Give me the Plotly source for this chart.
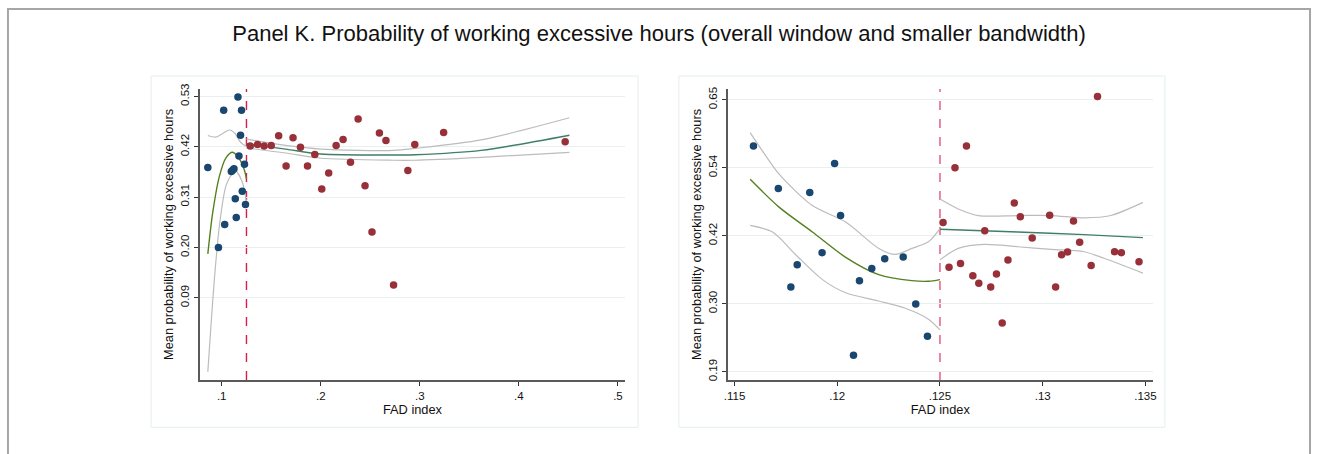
import plotly.graph_objects as go

W, H = 1318, 454
TITLE = "Panel K. Probability of working excessive hours (overall window and smaller bandwidth)"
YTITLE = "Mean probability of working excessive hours"
XTITLE = "FAD index"
CUTOFF = 0.125

# ---------- Left panel (overall window) ----------
bx_L = [0.0860, 0.0967, 0.1020, 0.1030, 0.1164, 0.1200, 0.1190, 0.1174, 0.1230,
        0.1097, 0.1110, 0.1124, 0.1208, 0.1137, 0.1240, 0.1147]
by_L = [0.375, 0.200, 0.500, 0.250, 0.529, 0.500, 0.445, 0.400, 0.382,
        0.366, 0.369, 0.372, 0.323, 0.3065, 0.294, 0.2655]
rx_L = [0.1288, 0.1361, 0.1428, 0.1500, 0.1575, 0.1650, 0.1720, 0.1795, 0.1866,
        0.1940, 0.2010, 0.2080, 0.2155, 0.2225, 0.2300, 0.2377, 0.2447, 0.2517,
        0.2592, 0.2658, 0.2735, 0.2879, 0.2949, 0.3240, 0.4467]
ry_L = [0.422, 0.425, 0.422, 0.423, 0.444, 0.378, 0.440, 0.419, 0.378,
        0.403, 0.328, 0.363, 0.423, 0.436, 0.386, 0.481, 0.335, 0.234,
        0.450, 0.434, 0.118, 0.368, 0.425, 0.451, 0.431]

fxL_l = [0.086, 0.091, 0.0977, 0.1043, 0.111, 0.1178, 0.1228, 0.125]
fyL_l = [0.186, 0.277, 0.356, 0.396, 0.408, 0.3935, 0.370, 0.350]
uxL_l = [0.086, 0.094, 0.101, 0.108, 0.1135, 0.1184, 0.1225, 0.125]
uyL_l = [0.4446, 0.441, 0.449, 0.4567, 0.449, 0.4316, 0.424, 0.421]
lxL_l = [0.086, 0.0893, 0.0927, 0.0977, 0.1043, 0.1110, 0.1143, 0.1210, 0.125]
lyL_l = [-0.072, 0.033, 0.133, 0.248, 0.3345, 0.362, 0.367, 0.3417, 0.298]

fxL_r = [0.125, 0.1645, 0.200, 0.2735, 0.2949, 0.3618, 0.451]
fyL_r = [0.4265, 0.415, 0.4042, 0.402, 0.4027, 0.4122, 0.4452]
uyL_r = [0.4366, 0.423, 0.415, 0.4122, 0.4165, 0.435, 0.4834]
lyL_r = [0.4172, 0.4064, 0.395, 0.3906, 0.3906, 0.397, 0.408]

yticks_L = [0.09, 0.20, 0.31, 0.42, 0.53]
yticktext_L = ["0.09", "0.20", "0.31", "0.42", "0.53"]
xticks_L = [0.1, 0.2, 0.3, 0.4, 0.5]
xticktext_L = [".1", ".2", ".3", ".4", ".5"]

# ---------- Right panel (smaller bandwidth) ----------
bx_R = [0.11592, 0.11713, 0.11774, 0.11805, 0.11866, 0.11926, 0.11987, 0.12016,
        0.12079, 0.12108, 0.12168, 0.12231, 0.12321, 0.12382, 0.12439]
by_R = [0.5716, 0.4998, 0.3335, 0.3708, 0.4932, 0.3914, 0.5420, 0.4543,
        0.2178, 0.3440, 0.3647, 0.3813, 0.3842, 0.3046, 0.2500]
rx_R = [0.12515, 0.12544, 0.12573, 0.12600, 0.12629, 0.12660, 0.12689, 0.12718,
        0.12747, 0.12775, 0.12803, 0.12831, 0.12862, 0.12891, 0.12949, 0.13034,
        0.13063, 0.13092, 0.13121, 0.13150, 0.13180, 0.13236, 0.13267, 0.13350,
        0.13383, 0.13469]
ry_R = [0.4426, 0.3669, 0.5349, 0.3730, 0.5716, 0.3525, 0.3396, 0.4286,
        0.3335, 0.3552, 0.2724, 0.3792, 0.4753, 0.4520, 0.4164, 0.4548,
        0.3335, 0.3880, 0.3925, 0.4448, 0.4092, 0.3697, 0.6555, 0.3930,
        0.3914, 0.3760]

fxR_l = [0.11576, 0.11718, 0.11879, 0.12041, 0.12202, 0.12363, 0.12444, 0.125]
fyR_l = [0.5154, 0.468, 0.4264, 0.3835, 0.3542, 0.3441, 0.343, 0.3458]
uxR_l = [0.11576, 0.11637, 0.11718, 0.11879, 0.12041, 0.12202, 0.12283, 0.12363, 0.12444, 0.125]
uyR_l = [0.5944, 0.5627, 0.5237, 0.471, 0.4431, 0.3986, 0.3885, 0.3986, 0.4097, 0.432]
lxR_l = [0.11576, 0.11685, 0.11799, 0.11928, 0.12041, 0.12202, 0.12331, 0.12444, 0.125]
lyR_l = [0.4376, 0.4264, 0.3875, 0.3458, 0.3235, 0.3096, 0.2974, 0.279, 0.2607]

fxR_r = [0.125, 0.1288, 0.13202, 0.13488]
fyR_r = [0.4309, 0.4264, 0.4219, 0.4169]
uxR_r = [0.125, 0.12589, 0.12686, 0.1288, 0.13041, 0.13202, 0.13331, 0.13488]
uyR_r = [0.482, 0.4653, 0.4542, 0.4542, 0.4542, 0.4503, 0.4542, 0.4765]
lxR_r = [0.125, 0.12589, 0.12718, 0.1288, 0.13041, 0.13202, 0.13299, 0.13488]
lyR_r = [0.3792, 0.3986, 0.4053, 0.4014, 0.3969, 0.393, 0.3819, 0.3569]

yticks_R = [0.19, 0.305, 0.42, 0.535, 0.65]
yticktext_R = ["0.19", "0.30", "0.42", "0.54", "0.65"]
xticks_R = [0.115, 0.12, 0.125, 0.13, 0.135]
xticktext_R = [".115", ".12", ".125", ".13", ".135"]

BLUE = "#1a476f"
RED = "#983039"
GREEN_L = "#55801f"
GREEN_R = "#3f7f66"
GRAY = "#bcbcbc"
FONT = "Liberation Sans, Arial, sans-serif"

fig = go.Figure()

def curve(x, y, color, xa, ya, width=1.2):
    fig.add_trace(go.Scatter(x=x, y=y, mode="lines", xaxis=xa, yaxis=ya,
                             line=dict(color=color, width=width, shape="spline", smoothing=0.8),
                             hoverinfo="skip", showlegend=False))

def dots(x, y, color, xa, ya):
    fig.add_trace(go.Scatter(x=x, y=y, mode="markers", xaxis=xa, yaxis=ya,
                             marker=dict(color=color, size=7.5, line=dict(width=0)),
                             showlegend=False))

# left panel
curve(uxL_l, uyL_l, GRAY, "x", "y")
curve(lxL_l, lyL_l, GRAY, "x", "y")
curve(fxL_l, fyL_l, GREEN_L, "x", "y", 1.4)
curve(fxL_r, uyL_r, GRAY, "x", "y")
curve(fxL_r, lyL_r, GRAY, "x", "y")
curve(fxL_r, fyL_r, GREEN_R, "x", "y", 1.4)
dots(bx_L, by_L, BLUE, "x", "y")
dots(rx_L, ry_L, RED, "x", "y")

# right panel
curve(uxR_l, uyR_l, GRAY, "x2", "y2")
curve(lxR_l, lyR_l, GRAY, "x2", "y2")
curve(fxR_l, fyR_l, GREEN_L, "x2", "y2", 1.4)
curve(uxR_r, uyR_r, GRAY, "x2", "y2")
curve(lxR_r, lyR_r, GRAY, "x2", "y2")
curve(fxR_r, fyR_r, GREEN_R, "x2", "y2", 1.4)
dots(bx_R, by_R, BLUE, "x2", "y2")
dots(rx_R, ry_R, RED, "x2", "y2")

def px(v):
    return v / W

def py(v):
    return 1 - v / H

ydom = [py(380), py(85)]
axis_common = dict(showline=True, linecolor="#5a5a5a", linewidth=1.5, ticks="outside",
                   ticklen=4, tickcolor="#333333", zeroline=False,
                   tickfont=dict(family=FONT, size=11.5, color="#111111"))
title_font = dict(family=FONT, size=12.8, color="#111111")

fig.update_layout(
    width=W, height=H, margin=dict(l=0, r=0, t=0, b=0),
    paper_bgcolor="white", plot_bgcolor="white",
    font=dict(family=FONT, color="#111111"),
    title=dict(text=TITLE, x=0.5, xanchor="center", y=py(33), yanchor="middle",
               font=dict(family="Liberation Sans Narrow, Arial Narrow, Liberation Sans, sans-serif",
                         size=22, color="#111111")),
    xaxis=dict(domain=[px(197), px(625)], range=[0.0779, 0.5073], anchor="y",
               tickvals=xticks_L, ticktext=xticktext_L, showgrid=False,
               title=dict(text=XTITLE, standoff=1, font=title_font), **axis_common),
    yaxis=dict(domain=ydom, range=[-0.0897, 0.5466], anchor="x",
               tickvals=yticks_L, ticktext=yticktext_L, tickangle=-90,
               showgrid=True, gridcolor="#e8f0f2", gridwidth=1,
               title=dict(text=YTITLE, standoff=3, font=title_font), **axis_common),
    xaxis2=dict(domain=[px(728), px(1156)], range=[0.11466, 0.13537], anchor="y2",
                tickvals=xticks_R, ticktext=xticktext_R, showgrid=False,
                title=dict(text=XTITLE, standoff=1, font=title_font), **axis_common),
    yaxis2=dict(domain=ydom, range=[0.1761, 0.6684], anchor="x2",
                tickvals=yticks_R, ticktext=yticktext_R, tickangle=-90,
                showgrid=True, gridcolor="#e8f0f2", gridwidth=1,
                title=dict(text=YTITLE, standoff=3, font=title_font), **axis_common),
)

shapes = [
    # outer border
    dict(type="rect", xref="paper", yref="paper", x0=px(4), x1=px(1314), y0=py(470), y1=py(4),
         line=dict(color="#a6a6a6", width=2), layer="below"),
    # panel boxes
    dict(type="rect", xref="paper", yref="paper", x0=px(148), x1=px(638), y0=py(428), y1=py(72),
         line=dict(color="#e4eef0", width=1), layer="below"),
    dict(type="rect", xref="paper", yref="paper", x0=px(679), x1=px(1168), y0=py(428), y1=py(72),
         line=dict(color="#e4eef0", width=1), layer="below"),
    # cutoff lines
    dict(type="line", xref="x", yref="y domain", x0=CUTOFF, x1=CUTOFF, y0=0, y1=1,
         line=dict(color="#d81e48", width=1.4, dash="dash"), layer="below"),
    dict(type="line", xref="x2", yref="y2 domain", x0=CUTOFF, x1=CUTOFF, y0=0, y1=1,
         line=dict(color="#e0557e", width=1.4, dash="dash"), layer="below"),
]
fig.update_layout(shapes=shapes)

fig.write_html("out.html", config={"displayModeBar": False},
               post_script="document.body.style.margin='0';document.body.style.overflow='hidden';")
